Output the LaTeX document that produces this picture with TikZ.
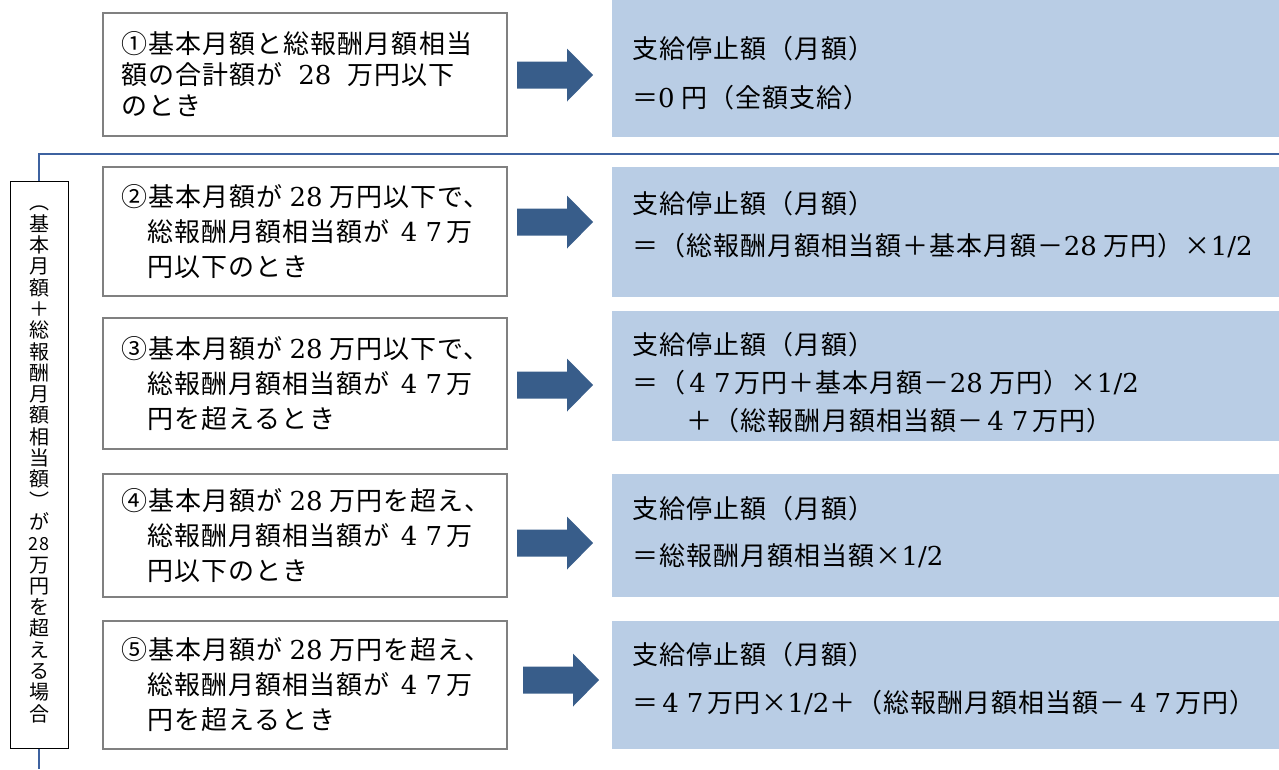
\documentclass[tikz,border=0pt]{standalone}
\usepackage{fontspec}
\usetikzlibrary{positioning}
\setmainfont{Noto Sans CJK JP}[LetterSpace=4]
\newfontfamily\numfont{DejaVu Serif}
\newcommand\digs[1]{{\numfont\fontsize{26}{26}\selectfont #1}}
\newcommand\wdig[1]{\makebox[0.95em]{\digs{#1}}}
\definecolor{paleblue}{RGB}{185,205,229}
\definecolor{arrowblue}{RGB}{56,93,138}
\definecolor{rulecol}{RGB}{62,98,160}

\begin{document}
\begin{tikzpicture}[x=1pt,y=-1pt,
	condbox/.style={draw=gray, line width=1.2pt, minimum width=404, inner sep=0},
	condtext/.style={inner sep=0, align=left},
	resbox/.style={fill=paleblue, minimum width=667, inner sep=0},
	restext/.style={anchor=north west, inner sep=0, align=left},
	sidebox/.style={draw=black, line width=1pt, minimum width=58, minimum height=567, align=center, inner sep=0, font=\fontsize{20}{21.3}\selectfont}]
			\useasboundingbox (0,0) rectangle (1279,769);
			% left side: conditions
			\node[condbox, minimum height=123] (cond1) at (305,74.5) {};
			\node[condbox, minimum height=129] (cond2) at (305,231.5) {};
			\node[condbox, minimum height=131] (cond3) at (305,383.5) {};
			\node[condbox, minimum height=123] (cond4) at (305,535.5) {};
			\node[condbox, minimum height=128] (cond5) at (305,685) {};
			\node[condtext, right=19pt of cond1.west, font=\fontsize{26}{31}\selectfont] (txt1) {①基本月額と総報酬月額相当\\額の合計額が\hspace{0.6em}\digs{28}\hspace{0.6em}万円以下\\のとき};
			\node[condtext, right=19pt of cond2.west, font=\fontsize{26}{35}\selectfont] (txt2) {②基本月額が \digs{28} 万円以下で、\\\hspace*{1em}総報酬月額相当額が \wdig{4}\wdig{7}万\\\hspace*{1em}円以下のとき};
			\node[condtext, right=19pt of cond3.west, font=\fontsize{26}{35}\selectfont] (txt3) {③基本月額が \digs{28} 万円以下で、\\\hspace*{1em}総報酬月額相当額が \wdig{4}\wdig{7}万\\\hspace*{1em}円を超えるとき};
			\node[condtext, right=19pt of cond4.west, font=\fontsize{26}{35}\selectfont] (txt4) {④基本月額が \digs{28} 万円を超え、\\\hspace*{1em}総報酬月額相当額が \wdig{4}\wdig{7}万\\\hspace*{1em}円以下のとき};
			\node[condtext, right=19pt of cond5.west, font=\fontsize{26}{35}\selectfont] (txt5) {⑤基本月額が \digs{28} 万円を超え、\\\hspace*{1em}総報酬月額相当額が \wdig{4}\wdig{7}万\\\hspace*{1em}円を超えるとき};
			% right side: amounts
			\node[resbox, minimum height=137] (res1) at (945.5,68.5) {};
			\node[resbox, minimum height=130] (res2) at (945.5,232) {};
			\node[resbox, minimum height=130] (res3) at (945.5,376) {};
			\node[resbox, minimum height=123] (res4) at (945.5,535.5) {};
			\node[resbox, minimum height=128] (res5) at (945.5,685) {};
			\node[restext, font=\fontsize{26}{49}\selectfont] (amt1) at (632,36) {支給停止額（月額）\\＝\digs{0} 円（全額支給）};
			\node[restext, font=\fontsize{26}{42}\selectfont] (amt2) at (632,191) {支給停止額（月額）\\＝（総報酬月額相当額＋基本月額－\digs{28} 万円）×\digs{1/2}};
			\node[restext, font=\fontsize{26}{38}\selectfont] (amt3) at (632,332) {支給停止額（月額）\\＝（\wdig{4}\wdig{7}万円＋基本月額－\digs{28} 万円）×\digs{1/2}\\\hspace*{2.1em}＋（総報酬月額相当額－\wdig{4}\wdig{7}万円）};
			\node[restext, font=\fontsize{26}{47}\selectfont] (amt4) at (632,496) {支給停止額（月額）\\＝総報酬月額相当額×\digs{1/2}};
			\node[restext, font=\fontsize{26}{48}\selectfont] (amt5) at (632,642) {支給停止額（月額）\\＝\wdig{4}\wdig{7}万円×\digs{1/2}＋（総報酬月額相当額－\wdig{4}\wdig{7}万円）};
			% block arrows
			\foreach \ax/\ay in {517/75, 517/222, 517/385, 517/543, 523/680}
				\fill[arrowblue] (\ax,\ay) ++(0,-13.5) -- ++(50,0) -- ++(0,-13) -- ++(26,26.5) -- ++(-26,26.5) -- ++(0,-13) -- ++(-50,0) -- cycle;
			% vertical label and rule
			\node[sidebox] (side) at (39,464.5) {︵\\基\\本\\月\\額\\＋\\総\\報\\酬\\月\\額\\相\\当\\額\\︶\\が\\{\fontsize{18}{18}\selectfont 28}\\万\\円\\を\\超\\え\\る\\場\\合};
			\coordinate (ruleend) at (1279,154);
			\coordinate (rulefoot) at (39,769);
			\draw[rulecol, line width=1.5pt] (side.north) |- (ruleend);
			\draw[rulecol, line width=1.5pt] (side.south) -- (rulefoot);
		\end{tikzpicture}
\end{document}
